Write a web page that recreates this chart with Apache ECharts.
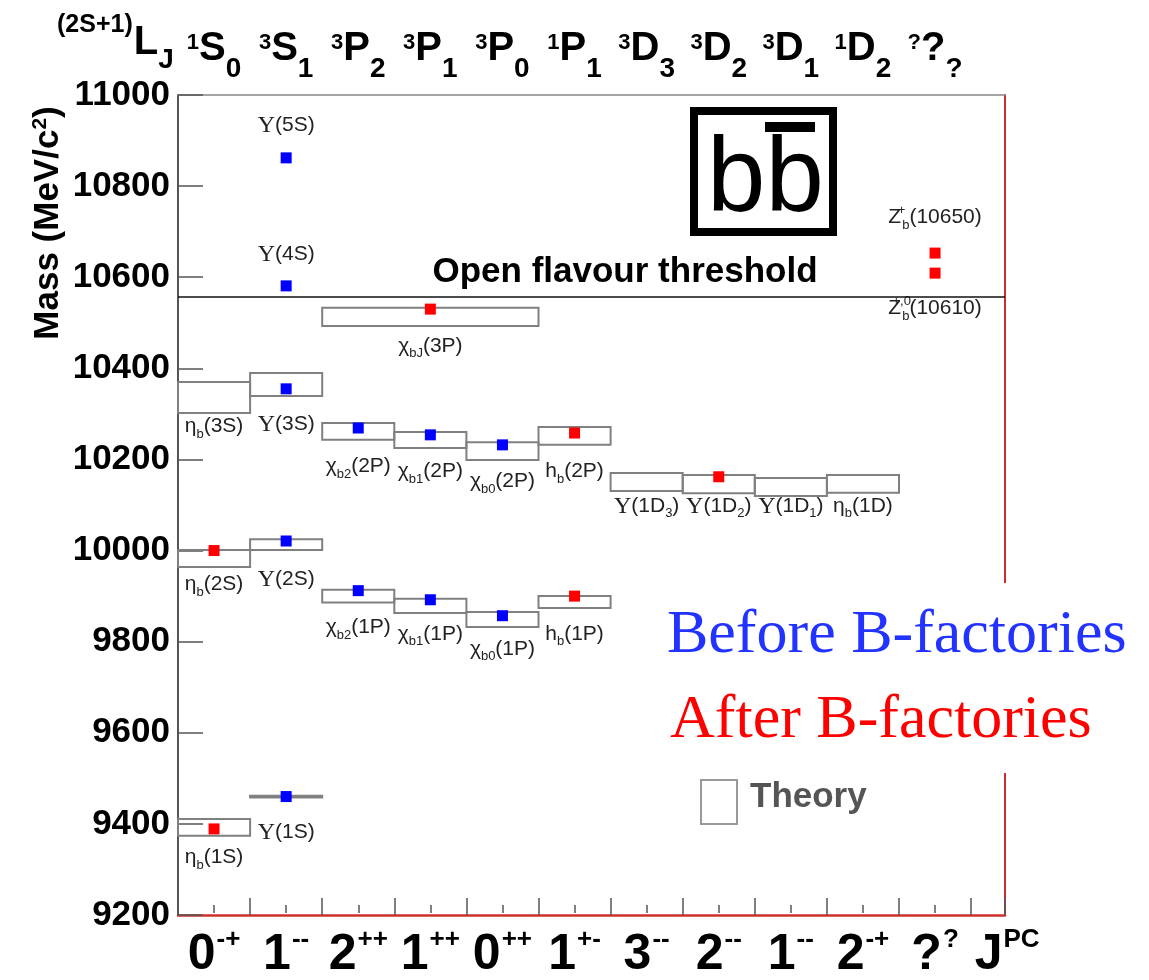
<!DOCTYPE html>
<html><head><meta charset="utf-8">
<script src="https://cdn.jsdelivr.net/npm/echarts@6/dist/echarts.min.js"></script>
<style>html,body{margin:0;padding:0;background:#fff}#c{width:1149px;height:980px}</style>
</head><body><div id="c"></div>
<script>
// ---------------- data ----------------
const jpcLabels = ['0^{-+}','1^{--}','2^{++}','1^{++}','0^{++}','1^{+-}','3^{--}','2^{--}','1^{--}','2^{-+}','?^{?}','J^{PC}'];
const termLabels = ['^{1}S_{0}','^{3}S_{1}','^{3}P_{2}','^{3}P_{1}','^{3}P_{0}','^{1}P_{1}','^{3}D_{3}','^{3}D_{2}','^{3}D_{1}','^{1}D_{2}','^{?}?_{?}',''];
const massMin = 9200, massMax = 11000, massStep = 200;
const threshold = 10558;

// theory predictions (boxes): column span and mass range
const theoryNames = ['ηb(1S)','ηb(2S)','ηb(3S)','Υ(1S)','Υ(2S)','Υ(3S)','χb2(1P)','χb2(2P)','χb1(1P)','χb1(2P)','χb0(1P)','χb0(2P)','hb(1P)','hb(2P)','χbJ(3P)','Υ(1D3)','Υ(1D2)','Υ(1D1)','ηb(1D)'];
const theoryColFrom = [0,0,0,1,1,1,2,2,3,3,4,4,5,5,2,6,7,8,9];
const theoryColTo   = [1,1,1,2,2,2,3,3,4,4,5,5,6,6,5,7,8,9,10];
const theoryLow  = [9374, 9964,10302,9458,10001,10339,9886,10243,9863,10225,9832,10199,9874,10232,10493,10131,10126,10120,10127];
const theoryHigh = [9411,10001,10370,9462,10025,10390,9914,10280,9894,10260,9865,10238,9900,10271,10533,10170,10166,10159,10166];

// measured states
const beforeCol  = [1,1,1,1,1,2,2,3,3,4,4];
const beforeMass = [9460,10021,10355,10581,10862,9912,10269,9892,10254,9857,10232];
const afterCol   = [0,0,3,5,5,7,10,10];
const afterMass  = [9389,10000,10530,9900,10258,10162,10609,10653];

// state name labels (column, mass at top of text)
const labelTexts = ['η_{b}(1S)','η_{b}(2S)','η_{b}(3S)','Υ(1S)','Υ(2S)','Υ(3S)','Υ(4S)','Υ(5S)',
  'χ_{b2}(1P)','χ_{b1}(1P)','χ_{b0}(1P)','h_{b}(1P)','χ_{b2}(2P)','χ_{b1}(2P)','χ_{b0}(2P)','h_{b}(2P)','χ_{bJ}(3P)',
  'Υ(1D_{3})','Υ(1D_{2})','Υ(1D_{1})','η_{b}(1D)','Z^{+}_{b}(10650)','Z^{+,0}_{b}(10610)'];
const labelCols = [0,0,0,1,1,1,1,1,2,3,4,5,2,3,4,5,3,6,7,8,9,10,10];
const labelMass = [9347,9946,10293,9402,9957,10298,10671,10954,9852,9837,9804,9837,10205,10194,10172,10194,10469,10118,10118,10118,10118,10752,10552];
const thresholdText = 'Open flavour threshold';
const thresholdTextCol = 6.2;

// ---------------- helpers ----------------
function toRich(s, st) {
  let out = '', i = 0;
  while (i < s.length) {
    const c = s[i];
    if ((c === '_' || c === '^') && s[i+1] === '{') {
      const j = s.indexOf('}', i);
      const content = s.slice(i + 2, j);
      let style = c === '_' ? st.sub : st.sup;
      if (c === '^' && s[j+1] === '_' && st.supz) style = st.supz;
      out += '{' + style + '|' + content + '}';
      i = j + 1;
    } else {
      let j = i;
      while (j < s.length && !((s[j] === '_' || s[j] === '^') && s[j+1] === '{')) j++;
      s.slice(i, j).split(/(Υ)/).forEach(part => {
        if (!part) return;
        out += '{' + (part === 'Υ' && st.ups ? st.ups : st.main) + '|' + part + '}';
      });
      i = j;
    }
  }
  return out;
}
const SANS = "'Liberation Sans', Arial, Helvetica, sans-serif";
const SERIF = "'Liberation Serif', 'Times New Roman', serif";

const topRich = {
  M: {fontFamily: SANS, fontWeight: 'bold', fontSize: 40, lineHeight: 70, color: '#000'},
  S: {fontFamily: SANS, fontWeight: 'bold', fontSize: 28, verticalAlign: 'bottom', padding: [0,0,1,0], color: '#000'},
  P: {fontFamily: SANS, fontWeight: 'bold', fontSize: 22, verticalAlign: 'top', padding: [18,0,0,0], color: '#000'},
  H: {fontFamily: SANS, fontWeight: 'bold', fontSize: 25, verticalAlign: 'top', padding: [5,1,0,0], color: '#000'},
  J: {fontFamily: SANS, fontWeight: 'bold', fontSize: 28, verticalAlign: 'bottom', padding: [0,0,4,0], color: '#000'}
};
const botRich = {
  M: {fontFamily: SANS, fontWeight: 'bold', fontSize: 50, lineHeight: 60, color: '#000'},
  P: {fontFamily: SANS, fontWeight: 'bold', fontSize: 26, verticalAlign: 'top', padding: [2,0,0,1], color: '#000'}
};
const lblRich = {
  m: {fontFamily: SANS, fontSize: 21, lineHeight: 28, color: '#222'},
  u: {fontFamily: SERIF, fontSize: 24, lineHeight: 28, color: '#222'},
  s: {fontFamily: SANS, fontSize: 13, verticalAlign: 'bottom', color: '#222'},
  p: {fontFamily: SANS, fontSize: 13, verticalAlign: 'top', color: '#222'},
  q: {fontFamily: SANS, fontSize: 13, verticalAlign: 'top', width: 1, color: '#222'}
};
const lblStyles = {main: 'm', sub: 's', sup: 'p', supz: 'q', ups: 'u'};

const theoryData = theoryNames.map((n, i) => [theoryColFrom[i], theoryColTo[i], theoryLow[i], theoryHigh[i]]);
const beforeData = beforeCol.map((c, i) => [c + 0.5, beforeMass[i]]);
const afterData = afterCol.map((c, i) => [c + 0.5, afterMass[i]]);
const labelData = labelTexts.map((t, i) => [labelCols[i] + 0.5, labelMass[i], i]);
const xMax = 11.47;

const chart = echarts.init(document.getElementById('c'), null, {renderer: 'canvas'});
chart.setOption({
  animation: false,
  backgroundColor: '#fff',
  grid: [
    {left: 178, top: 95, width: 827, height: 820},
    {left: 178, top: 95, width: 72.1 * 12, height: 820}
  ],
  xAxis: [
    {gridIndex: 0, type: 'value', min: 0, max: xMax, interval: 1, position: 'bottom',
     axisLine: {show: true, onZero: false, lineStyle: {color: '#d0302c', width: 2.5}},
     axisTick: {show: true, inside: true, length: 17, lineStyle: {color: '#555', width: 1.5}},
     axisLabel: {show: false}, splitLine: {show: false}},
    {gridIndex: 0, type: 'value', min: 0, max: xMax, position: 'top',
     axisLine: {show: true, onZero: false, lineStyle: {color: '#888', width: 1.5}},
     axisTick: {show: false}, axisLabel: {show: false}, splitLine: {show: false}},
    {gridIndex: 1, type: 'category', data: jpcLabels, position: 'bottom',
     axisLine: {show: false},
     axisTick: {show: true, inside: true, alignWithLabel: true, interval: (i) => i < 11, length: 8, lineStyle: {color: '#555', width: 1.5}},
     axisLabel: {interval: 0, margin: 12, formatter: v => toRich(v, {main: 'M', sup: 'P', sub: 'P'}), rich: botRich},
     splitLine: {show: false}},
    {gridIndex: 1, type: 'category', data: termLabels, position: 'top',
     axisLine: {show: false}, axisTick: {show: false},
     axisLabel: {interval: 0, margin: 11, formatter: v => v ? toRich(v, {main: 'M', sup: 'P', sub: 'S'}) : '', rich: topRich},
     splitLine: {show: false}}
  ],
  yAxis: [
    {gridIndex: 0, type: 'value', min: massMin, max: massMax, interval: massStep,
     axisLine: {show: true, onZero: false, lineStyle: {color: '#555', width: 2}},
     axisTick: {show: true, inside: true, length: 25, lineStyle: {color: '#555', width: 1.5}},
     axisLabel: {fontFamily: SANS, fontWeight: 'bold', fontSize: 35, color: '#000', margin: 8,
       showMinLabel: true, showMaxLabel: true, formatter: v => String(v)},
     splitLine: {show: false}},
    {gridIndex: 0, type: 'value', min: massMin, max: massMax, position: 'right',
     axisLine: {show: true, onZero: false, lineStyle: {color: '#c8302c', width: 2}},
     axisTick: {show: false}, axisLabel: {show: false}, splitLine: {show: false}},
    {gridIndex: 1, type: 'value', show: false}
  ],
  series: [
    {type: 'custom', name: 'Theory', xAxisIndex: 0, yAxisIndex: 0, silent: true,
     data: theoryData,
     renderItem: (params, api) => {
       const p1 = api.coord([api.value(0), api.value(3)]);
       const p2 = api.coord([api.value(1), api.value(2)]);
       return {type: 'rect',
         shape: {x: p1[0], y: p1[1], width: p2[0] - p1[0], height: Math.max(p2[1] - p1[1], 1)},
         style: {fill: 'none', stroke: '#808080', lineWidth: 2}};
     }},
    {type: 'scatter', name: 'Before B-factories', xAxisIndex: 0, yAxisIndex: 0, silent: true,
     symbol: 'rect', symbolSize: 11, itemStyle: {color: '#0000ff', opacity: 1}, data: beforeData, z: 5,
     markLine: {silent: true, symbol: 'none', label: {show: false},
       lineStyle: {color: '#111', width: 1.5, type: 'solid', opacity: 1}, data: [{yAxis: threshold}]}},
    {type: 'scatter', name: 'After B-factories', xAxisIndex: 0, yAxisIndex: 0, silent: true,
     symbol: 'rect', symbolSize: 11, itemStyle: {color: '#ff0000', opacity: 1}, data: afterData, z: 5},
    {type: 'scatter', name: 'labels', xAxisIndex: 0, yAxisIndex: 0, silent: true,
     symbolSize: 1, itemStyle: {color: 'rgba(0,0,0,0)', opacity: 1}, data: labelData, z: 4,
     label: {show: true, position: 'bottom', distance: -5,
       formatter: p => toRich(labelTexts[p.value[2]], lblStyles), rich: lblRich}},
    {type: 'scatter', name: 'threshold label', xAxisIndex: 0, yAxisIndex: 0, silent: true,
     symbolSize: 1, itemStyle: {color: 'rgba(0,0,0,0)', opacity: 1}, data: [[thresholdTextCol, threshold]], z: 4,
     label: {show: true, position: 'top', distance: 6, formatter: thresholdText,
       fontFamily: SANS, fontWeight: 'bold', fontSize: 35, color: '#000'}}
  ],
  graphic: [
    {type: 'text', left: 57, top: 13, style: {text: '{H|(2S+1)}{M|L}{J|J}', rich: topRich}},
    {type: 'text', x: 48, y: 223, rotation: Math.PI / 2,
     style: {text: '{a|Mass (MeV/c}{b|2}{a|)}', align: 'center', verticalAlign: 'middle',
       rich: {a: {fontFamily: SANS, fontWeight: 'bold', fontSize: 35, lineHeight: 40, color: '#000'},
              b: {fontFamily: SANS, fontWeight: 'bold', fontSize: 21, verticalAlign: 'top', padding: [2,0,0,0], color: '#000'}}}},
    // b-bbar box
    {type: 'rect', shape: {x: 694, y: 111, width: 139, height: 121}, style: {fill: 'none', stroke: '#000', lineWidth: 8}},
    {type: 'text', x: 707, y: 182, style: {text: 'bb', fontFamily: SANS, fontSize: 105, fill: '#000', verticalAlign: 'middle', align: 'left'}},
    {type: 'rect', shape: {x: 765, y: 122, width: 50, height: 10}, style: {fill: '#000'}},
    // legend area
    {type: 'rect', shape: {x: 655, y: 583, width: 494, height: 190}, style: {fill: '#fff'}, z: 10},
    {type: 'text', x: 667, y: 636, z: 11, style: {text: 'Before B-factories', fontFamily: SERIF, fontSize: 62, fill: '#2233ff', verticalAlign: 'middle'}},
    {type: 'text', x: 670, y: 721, z: 11, style: {text: 'After B-factories', fontFamily: SERIF, fontSize: 62, fill: '#ff0000', verticalAlign: 'middle'}},
    {type: 'rect', shape: {x: 701, y: 780, width: 36, height: 44}, style: {fill: 'none', stroke: '#999', lineWidth: 2}},
    {type: 'text', x: 750, y: 797, style: {text: 'Theory', fontFamily: SANS, fontWeight: 'bold', fontSize: 35, fill: '#555', verticalAlign: 'middle'}}
  ]
});
</script></body></html>
